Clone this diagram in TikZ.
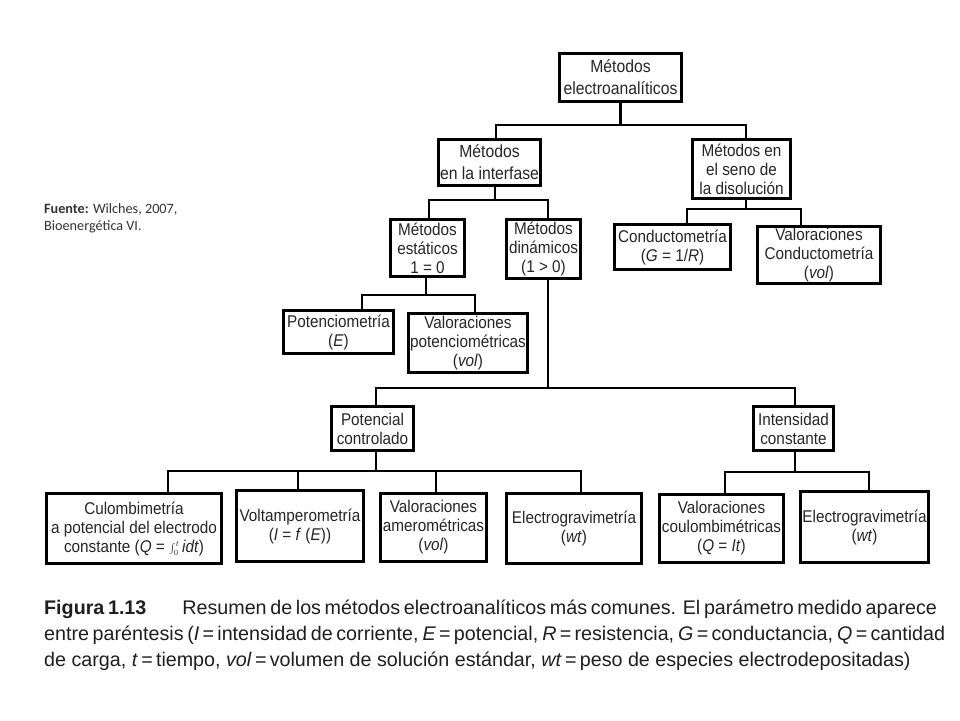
\documentclass[tikz,border=0pt]{standalone}
\usepackage{fontspec}
\setmainfont{Liberation Sans}
\newfontfamily\boxfont[FakeStretch=0.9]{Liberation Sans}
\newfontfamily\fuentefont{Carlito}
\begin{document}
\begin{tikzpicture}[x=1pt,y=-1pt,
  box/.style={draw, line width=2.4pt, align=center, inner sep=0pt, text=black!85},
  txt/.style={font=\boxfont\fontsize{17}{19}\selectfont},
  txtb/.style={font=\boxfont\fontsize{17.5}{22}\selectfont},
  conn/.style={line width=2.4pt, line cap=rect, line join=miter},
  captxt/.style={anchor=base west, inner sep=0pt, text=black!88, font=\fontsize{19.7}{26}\selectfont}]
\useasboundingbox[fill=white] (0,0) rectangle (960,720);

% nodes
\node[box, txtb, minimum width=122pt, minimum height=48pt] (top) at (620.5,77.5) {Métodos\\electroanalíticos};
\node[box, txtb, minimum width=102pt, minimum height=46pt] (interfase) at (489.5,162.5) {Métodos\\en la interfase};
\node[box, txt, minimum width=98pt, minimum height=59pt] (seno) at (741.5,169) {Métodos en\\el seno de\\la disolución};
\node[box, txt, minimum width=74pt, minimum height=57pt] (estaticos) at (427.5,248) {Métodos\\estáticos\\1 = 0};
\node[box, txt, minimum width=74pt, minimum height=59pt] (dinamicos) at (543.5,249) {Métodos\\dinámicos\\(1 > 0)};
\node[box, txt, minimum width=116pt, minimum height=45pt] (cond) at (672.5,247) {Conductometría\\(\textit{G} = 1/\textit{R})};
\node[box, txt, minimum width=123pt, minimum height=57pt] (valcond) at (819,255) {Valoraciones\\Conductometría\\(\textit{vol})};
\node[box, txt, minimum width=110pt, minimum height=43pt] (poten) at (338.5,332) {Potenciometría\\(\textit{E})};
\node[box, txt, minimum width=119pt, minimum height=59pt] (valpot) at (468,343) {Valoraciones\\potenciométricas\\(\textit{vol})};
\node[box, txt, minimum width=82pt, minimum height=44pt] (potctrl) at (372.5,428.5) {Potencial\\controlado};
\node[box, txt, minimum width=80pt, minimum height=44pt] (intcte) at (793.5,428.5) {Intensidad\\constante};
\node[box, txt, minimum width=175pt, minimum height=70pt] (culo) at (134,528.5) {Culombimetría\\a potencial del electrodo\\constante (\textit{Q} = {\large$\int_0^t$}\,\textit{idt})};
\node[box, txt, minimum width=127pt, minimum height=71pt] (volt) at (300,526) {Voltamperometría\\(\textit{I} = \textit{f} (\textit{E}))};
\node[box, txt, minimum width=106pt, minimum height=68pt] (valamp) at (433.5,527.5) {Valoraciones\\amerométricas\\(\textit{vol})};
\node[box, txt, minimum width=135pt, minimum height=70pt] (elec1) at (574,528.5) {Electrogravimetría\\(\textit{wt})};
\node[box, txt, minimum width=124pt, minimum height=68pt] (valcoul) at (721.5,528.5) {Valoraciones\\coulombimétricas\\(\textit{Q} = \textit{It})};
\node[box, txt, minimum width=128pt, minimum height=71pt] (elec2) at (864.5,527) {Electrogravimetría\\(\textit{wt})};

% bus coordinates
\coordinate (b1L) at (496,125); \coordinate (b1R) at (746,125);
\coordinate (b2L) at (429,200); \coordinate (b2M) at (495,200); \coordinate (b2R) at (548,200);
\coordinate (b3L) at (376,388); \coordinate (b3M) at (548,388); \coordinate (b3R) at (795,388);
\coordinate (b4L) at (687,209); \coordinate (b4M) at (746,209); \coordinate (b4R) at (801,209);
\coordinate (b5L) at (362,295); \coordinate (b5M) at (426,295); \coordinate (b5R) at (475,295);
\coordinate (b6L) at (168,471); \coordinate (b6a) at (298,471); \coordinate (b6b) at (436,471);
\coordinate (b6M) at (376,471); \coordinate (b6R) at (581,471);
\coordinate (b7L) at (725,472); \coordinate (b7M) at (795,472); \coordinate (b7R) at (869,472);

% connectors
\draw[conn] (top.south) -- (top.south |- b1L);
\draw[conn] (interfase.north -| b1L) -- (b1L) -- (b1R) -- (seno.north -| b1R);

\draw[conn] (interfase.south -| b2M) -- (b2M);
\draw[conn] (estaticos.north -| b2L) -- (b2L) -- (b2R) -- (dinamicos.north -| b2R);

\draw[conn] (dinamicos.south -| b3M) -- (b3M);
\draw[conn] (potctrl.north -| b3L) -- (b3L) -- (b3R) -- (intcte.north -| b3R);

\draw[conn] (seno.south -| b4M) -- (b4M);
\draw[conn] (cond.north -| b4L) -- (b4L) -- (b4R) -- (valcond.north -| b4R);

\draw[conn] (estaticos.south -| b5M) -- (b5M);
\draw[conn] (poten.north -| b5L) -- (b5L) -- (b5R) -- (valpot.north -| b5R);

\draw[conn] (potctrl.south -| b6M) -- (b6M);
\draw[conn] (culo.north -| b6L) -- (b6L) -- (b6R) -- (elec1.north -| b6R);
\draw[conn] (b6a) -- (volt.north -| b6a);
\draw[conn] (b6b) -- (valamp.north -| b6b);

\draw[conn] (intcte.south -| b7M) -- (b7M);
\draw[conn] (valcoul.north -| b7L) -- (b7L) -- (b7R) -- (elec2.north -| b7R);

% source note
\node[anchor=base west, inner sep=0pt, text=black!80, font=\fuentefont\fontsize{14.2}{17}\selectfont] (fuente1) at (44,213) {\textbf{Fuente:} Wilches, 2007,};
\node[anchor=base west, inner sep=0pt, text=black!80, font=\fuentefont\fontsize{14.2}{17}\selectfont] (fuente2) at (44,230) {Bioenergética VI.};

% caption
\node[captxt] (cap1) at (44,614) {\makebox[884pt][s]{\textbf{Figura 1.13}\hspace{36pt}Resumen de los métodos electroanalíticos más comunes. El parámetro medido aparece}};
\node[captxt] (cap2) at (44,640) {\makebox[887pt][s]{entre paréntesis (\textit{I}\,=\,intensidad de corriente, \textit{E}\,=\,potencial, \textit{R}\,=\,resistencia, \textit{G}\,=\,conductancia, \textit{Q}\,=\,cantidad}};
\node[captxt] (cap3) at (44,666) {de carga, \textit{t}\,=\,tiempo, \textit{vol}\,=\,volumen de solución estándar, \textit{wt}\,=\,peso de especies electrodepositadas)};
\end{tikzpicture}
\end{document}
